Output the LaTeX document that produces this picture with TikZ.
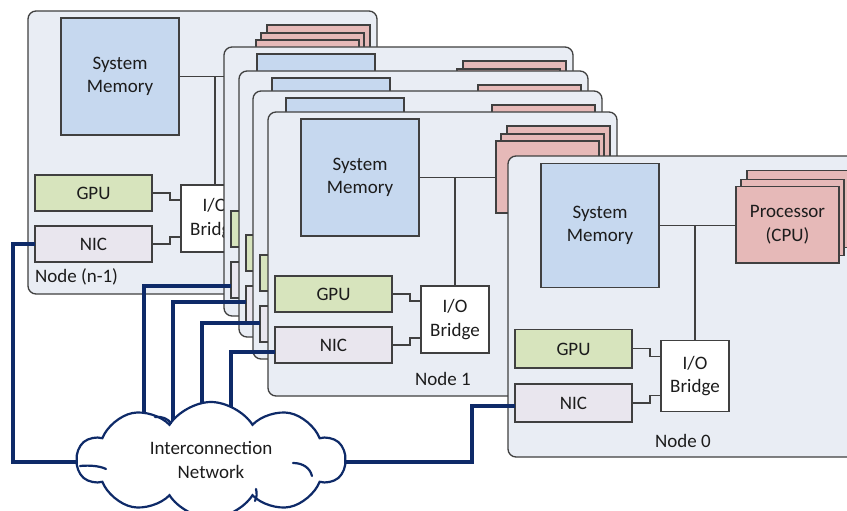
\documentclass[tikz,border=0pt]{standalone}
\usepackage{fontspec}
\setmainfont{Carlito}
\usetikzlibrary{shapes.symbols}
\pgfdeclarelayer{front}
\pgfsetlayers{main,front}

\definecolor{boardfill}{HTML}{E9EDF4}
\definecolor{edge}{HTML}{404040}
\definecolor{memfill}{HTML}{C6D8EF}
\definecolor{cpufill}{HTML}{E6B9B8}
\definecolor{gpufill}{HTML}{D7E4BD}
\definecolor{nicfill}{HTML}{E9E6EE}
\definecolor{navy}{HTML}{0E2A68}
\definecolor{ink}{HTML}{1C1C1C}

\tikzset{
  every node/.style={font=\fontsize{19}{23.5}\selectfont, text=ink, inner sep=0pt, outer sep=0pt},
  part/.style={draw=edge, line width=1.3pt, anchor=north west, align=center},
  boardbox/.style={part, fill=boardfill, rounded corners=8pt, minimum width=349},
  membox/.style={part, fill=memfill, minimum width=118},
  cpubox/.style={part, fill=cpufill, minimum width=103},
  gpubox/.style={part, fill=gpufill, minimum width=117},
  nicbox/.style={part, fill=nicfill, minimum width=117},
  bridgebox/.style={part, fill=white, minimum width=68},
  wire/.style={draw=edge, line width=1.1pt},
  netlink/.style={draw=navy, line width=3.2pt},
  netcloud/.style={cloud, draw=navy, line width=2.2pt, fill=white, cloud puffs=10,
    cloud puff arc=115, cloud ignores aspect, minimum width=268, minimum height=116, align=center},
  puffline/.style={draw=navy, line width=2.2pt, line cap=round},
}

% One compute node: board, CPU stack, memory, GPU, NIC and I/O bridge.
% #1 name, #2/#3 top-left corner, #4 board height, #5 vertical stretch,
% #6 print component texts (1/0), #7 print CPU text (1/0)
\newcommand\drawboard[7]{%
  \begin{scope}[shift={(#2,#3)}, y=-#5pt]
    \node[boardbox, minimum height=#4] (#1) at (0,0) {};
    \node[cpubox, minimum height={72*#5}] (#1-cpu3) at (239,14) {};
    \node[cpubox, minimum height={72*#5}] (#1-cpu2) at (233,22) {};
    \node[cpubox, minimum height={72*#5}] (#1-cpu) at (228,29) {\ifnum#7=1 Processor\\(CPU)\fi};
    \node[membox, minimum height={117*#5}] (#1-mem) at (33,7) {\ifnum#6=1 System\\Memory\fi};
    \node[gpubox, minimum height={36*#5}] (#1-gpu) at (7,164) {\ifnum#6=1 GPU\fi};
    \node[nicbox, minimum height={36*#5}] (#1-nic) at (7,215) {\ifnum#6=1 NIC\fi};
    \node[bridgebox, minimum height={67*#5}] (#1-bridge) at (153,174) {\ifnum#6=1 I/O\\Bridge\fi};
    \draw[wire] (#1-mem.east) -- (#1-cpu.west |- #1-mem.east);
    \draw[wire] (#1-bridge.north) -- (#1-bridge.north |- #1-mem.east);
    \draw[wire] (#1-gpu.east) -| (142,189) -- (#1-bridge.west |- 0,189);
    \draw[wire] (#1-nic.east) -| (142,226) -- (#1-bridge.west |- 0,226);
  \end{scope}}

\begin{document}
\begin{tikzpicture}[x=1pt, y=-1pt]
  \useasboundingbox (0,0) rectangle (847,511);
  \fill[white] (0,0) rectangle (847,511);
  \clip (0,0) rectangle (847,511);

  % the network sits in front of every link that runs into it
  \begin{pgfonlayer}{front}
    \node[netcloud] (cloud) at (211,460) {Interconnection\\Network};
    % small inner strokes of the cloud outline
    \draw[puffline] (155,417) .. controls (162,416) and (168,419) .. (171,423);
    \draw[puffline] (80,466) .. controls (90,465) and (100,466) .. (106,469);
    \draw[puffline] (293,463) .. controls (303,463) and (310,468) .. (312,476);
    \draw[puffline] (256,489) .. controls (257,493) and (257,497) .. (255,501);
  \end{pgfonlayer}

  % back board
  \drawboard{nm}{28}{11}{283}{1}{1}{0}
  \coordinate (nm-drop) at (13,462);
  \draw[netlink] (nm-nic.west) -| (nm-drop) -- (cloud.center |- nm-drop);

  % stacked boards in between
  \drawboard{na}{224}{47}{269}{1}{0}{0}
  \draw[netlink] ([yshift=-6pt]na-nic.west) -| (cloud.center -| 144,0);
  \drawboard{nb}{239}{71}{266}{1}{0}{0}
  \draw[netlink] ([yshift=2pt]nb-nic.west) -| (cloud.center -| 173,0);
  \drawboard{nc}{253}{91}{268}{1}{0}{0}
  \draw[netlink] ([yshift=1pt]nc-nic.west) -| (cloud.center -| 202,0);

  % node 1
  \drawboard{n1}{268}{112}{284}{1}{1}{0}
  \draw[netlink] ([yshift=-7pt]n1-nic.west) -| (cloud.center -| 231,0);

  % node 0
  \drawboard{n0}{508}{156}{301}{1.06}{1}{1}
  \coordinate (n0-drop) at (472,462);
  \draw[netlink] ([yshift=-3pt]n0-nic.west) -| (n0-drop) -- (cloud.center |- n0-drop);

  % board captions
  \node[anchor=west] (nm-label) at (35,277) {Node (n-1)};
  \node (n1-label) at (443,379) {Node 1};
  \node (n0-label) at (683,441) {Node 0};
\end{tikzpicture}
\end{document}
